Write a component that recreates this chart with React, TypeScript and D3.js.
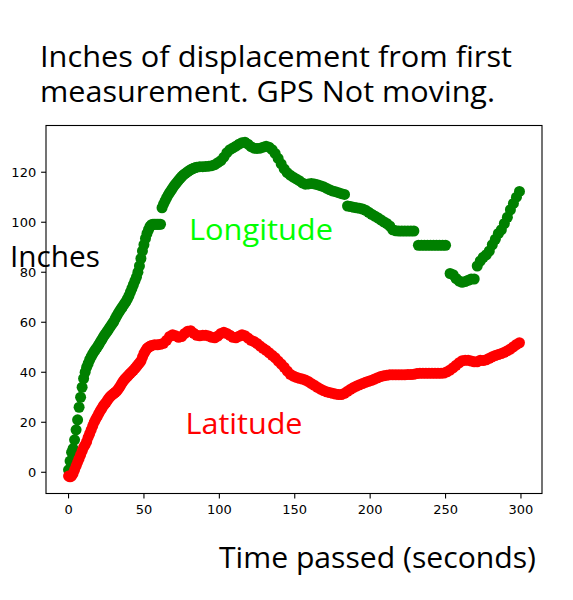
import React from 'react';
import * as d3 from 'd3';

const lonTime = [
  0, 1, 2, 3, 4, 5, 6, 7, 8, 9,
  10, 11, 12, 13, 14, 15, 16, 17, 18, 19,
  20, 21, 22, 23, 24, 25, 26, 27, 28, 29,
  30, 31, 32, 33, 34, 35, 36, 37, 38, 39,
  40, 41, 42, 43, 44, 45, 46, 47, 48, 49,
  50, 51, 52, 53, 54, 55, 56, 57, 58, 59,
  60, 61, 62, 63, 64, 65, 66, 67, 68, 69,
  70, 71, 72, 73, 74, 75, 76, 77, 78, 79,
  80, 81, 82, 83, 84, 85,
  87, 89, 91, 93, 95, 97, 99, 101, 103, 105,
  107, 109, 111, 113, 115, 117, 119, 121, 123, 125,
  127, 129, 131, 133, 135, 137, 139, 141, 143, 145,
  147, 149, 151, 153, 155, 157, 159, 161, 163, 165,
  167, 169, 171, 173, 175, 177, 179, 181, 183,
  185, 187, 189, 191, 193, 195, 197, 199, 201, 203,
  205, 207, 209, 211, 213, 215, 217, 219, 221, 223,
  225, 227, 229,
  232, 234, 236, 238, 240, 242, 244, 246, 248, 250,
  253, 255, 257, 259, 261, 263, 265, 267, 269,
  271, 273, 275, 277, 279, 281, 283, 285, 287, 289,
  291, 293, 295, 297, 299,
];

const lonInches = [
  1, 4.5, 8, 9.5, 13, 17, 21, 26, 30, 34,
  37.5, 40, 42, 43.5, 45, 46.2, 47.3, 48.3, 49.2, 50,
  51, 52, 53, 54, 55, 55.8, 56.7, 57.6, 58.5, 59.4,
  60.3, 61.5, 62.6, 63.6, 64.6, 65.5, 66.4, 67.3, 68.2, 69.3,
  70.5, 72, 73.5, 75, 76.5, 78, 80, 82.5, 85.5, 88.5,
  91, 93.5, 95.5, 97, 98.3, 99, 99.2, 99.2, 99.2, 99.2,
  99.2, 99.2, 105.8, 107.2, 108.5, 109.7, 110.8, 111.8, 112.7, 113.6,
  114.5, 115.3, 116, 116.8, 117.5, 118.2, 118.8, 119.3, 119.7, 120.2,
  120.6, 121, 121.3, 121.6, 121.8, 122,
  122.2, 122.2, 122.3, 122.4, 122.6, 123, 123.8, 124.6, 126, 127.8,
  129, 129.7, 130.4, 131.2, 131.8, 132, 131.2, 130.2, 129.6, 129.5,
  129.6, 130, 130.4, 130, 129, 127.5, 125.5, 123.3, 121.3, 119.8,
  118.8, 118, 117.3, 116.6, 115.7, 115.2, 115.3, 115.5, 115.3, 115,
  114.6, 114.2, 113.6, 113, 112.5, 112.2, 111.8, 111.4, 111.1,
  106.5, 106.3, 106, 105.8, 105.6, 105.3, 104.8, 104, 103.2, 102.5,
  101.8, 101, 100.2, 99.5, 98.5, 97, 96.6, 96.5, 96.5, 96.5,
  96.5, 96.5, 96.5,
  90.8, 90.8, 90.8, 90.8, 90.8, 90.8, 90.8, 90.8, 90.8, 90.8,
  79.5, 79, 77.5, 76.5, 76, 76.3, 76.8, 77.3, 77.3,
  82.5, 84.5, 86, 87, 88.5, 91, 93.2, 95.5, 97, 99.5,
  102, 105, 107.5, 110, 112.3,
];

const latTime = [
  0, 1, 2, 3, 4, 5, 6, 7, 8, 9,
  10, 11, 12, 13, 14, 15, 16, 17, 18, 19,
  20, 21, 22, 23, 24, 25, 26, 27, 28, 29,
  30, 31, 32, 33, 34, 35, 36, 37, 38, 39,
  40, 41, 42, 43, 44, 45, 46, 47, 48, 49,
  50, 51, 52, 53, 54, 55,
  57, 59, 61, 63, 65, 67, 69, 71, 73, 75,
  77, 79, 81, 83, 85, 87, 89, 91, 93, 95,
  97, 99, 101, 103, 105, 107, 109, 111, 113, 115,
  117, 119, 121, 123, 125, 127, 129, 131, 133, 135,
  137, 139, 141, 143, 145, 147, 149, 151, 153, 155,
  157, 159, 161, 163, 165, 167, 169, 171, 173, 175,
  177, 179, 181, 183, 185, 187, 189, 191, 193, 195,
  197, 199, 201, 203, 205, 207, 209, 211, 213, 215,
  217, 219, 221, 223, 225, 227, 229, 231, 233, 235,
  237, 239, 241, 243, 245, 247, 249, 251, 253, 255,
  257, 259, 261, 263, 265, 267, 269, 271, 273, 275,
  277, 279, 281, 283, 285, 287, 289, 291, 293, 295,
  297, 299,
];

const latInches = [
  -1.5, -1.8, -1.5, -0.5, 1, 2.5, 4, 5.5, 7, 8.5,
  10, 11, 12.3, 14, 15.5, 17, 18.5, 20, 21.2, 22.3,
  23.5, 24.5, 25.5, 26.5, 27.3, 28, 29, 29.8, 30.5, 31,
  31.5, 32, 32.5, 33.3, 34.2, 35.2, 36.2, 37, 37.7, 38.3,
  39, 39.6, 40.2, 40.8, 41.5, 42.2, 43, 43.7, 44.5, 46,
  47.5, 48.5, 49.5, 50, 50.4, 50.7,
  51, 51, 51.2, 51.6, 52.8, 54.3, 55, 54.6, 54, 54.3,
  55.5, 56.4, 56.6, 55.6, 54.8, 54.6, 54.8, 54.8, 54.5, 54,
  53.8, 54.5, 55.5, 56, 55.5, 54.8, 54, 53.8, 54.4, 55,
  54.6, 53.7, 52.8, 52.3, 51.5, 50.5, 49.6, 48.8, 47.8, 46.8,
  45.8, 44.5, 43.3, 42, 40.5, 39.2, 38.5, 38, 37.6, 37.3,
  36.9, 36.3, 35.5, 34.8, 34, 33.3, 32.7, 32.2, 31.9, 31.6,
  31.3, 31.1, 31.1, 31.6, 32.4, 33.2, 33.9, 34.5, 35, 35.5,
  36, 36.4, 36.8, 37.3, 37.8, 38.3, 38.6, 38.8, 39, 39,
  39, 39, 39, 39, 39.1, 39.1, 39.2, 39.5, 39.6, 39.6,
  39.6, 39.6, 39.6, 39.6, 39.6, 39.6, 39.7, 40.2, 40.9, 41.8,
  42.8, 43.8, 44.6, 44.8, 44.8, 44.5, 44.2, 44.2, 44.8, 44.7,
  45, 45.6, 46.2, 46.7, 47.1, 47.5, 48, 48.6, 49.3, 50.2,
  51.1, 51.8,
];

const xTicks = [0, 50, 100, 150, 200, 250, 300];
const yTicks = [0, 20, 40, 60, 80, 100, 120];
const titleLines = ['Inches of displacement from first', 'measurement. GPS Not moving.'];
const yLabel = 'Inches';
const xLabel = 'Time passed (seconds)';
const lonLabel = 'Longitude';
const latLabel = 'Latitude';

const W = 573;
const H = 600;
const LEFT = 46;
const RIGHT = 542;
const TOP = 125.5;
const BOTTOM = 493.5;
const R = 5.5;
const BIG_FONT = "'Open Sans', 'Noto Sans', sans-serif";
const TICK_FONT = "'DejaVu Sans', sans-serif";

function padded(values: number[]): [number, number] {
  const [lo, hi] = d3.extent(values) as [number, number];
  const m = (hi - lo) * 0.05;
  return [lo - m, hi + m];
}

export default function App() {
  const x = d3.scaleLinear().domain(padded([...lonTime, ...latTime])).range([LEFT, RIGHT]);
  const y = d3.scaleLinear().domain(padded([...lonInches, ...latInches])).range([BOTTOM, TOP]);

  const lon = lonTime.map((t, i) => [t, lonInches[i]] as [number, number]);
  const lat = latTime.map((t, i) => [t, latInches[i]] as [number, number]);

  return (
    <svg width={W} height={H} style={{ position: 'absolute', left: 0, top: 0, background: '#fff' }}>
      <rect x={0} y={0} width={W} height={H} fill="#fff" />
      <g>
        {lon.map(([t, v], i) => (
          <circle key={'g' + i} cx={x(t)} cy={y(v)} r={R} fill="#008000" />
        ))}
        {lat.map(([t, v], i) => (
          <circle key={'r' + i} cx={x(t)} cy={y(v)} r={R} fill="#ff0000" />
        ))}
      </g>
      <rect x={LEFT} y={TOP} width={RIGHT - LEFT} height={BOTTOM - TOP} fill="none" stroke="#000" strokeWidth={1.1} />
      <g fontFamily={TICK_FONT} fontSize={13} fill="#000">
        {xTicks.map((t) => (
          <g key={'xt' + t}>
            <line x1={x(t)} x2={x(t)} y1={BOTTOM} y2={BOTTOM + 4.9} stroke="#000" strokeWidth={1.1} />
            <text x={x(t)} y={BOTTOM + 20.5} textAnchor="middle">{t}</text>
          </g>
        ))}
        {yTicks.map((v) => (
          <g key={'yt' + v}>
            <line x1={LEFT - 4.9} x2={LEFT} y1={y(v)} y2={y(v)} stroke="#000" strokeWidth={1.1} />
            <text x={LEFT - 9.8} y={y(v)} dy="0.36em" textAnchor="end">{v}</text>
          </g>
        ))}
      </g>
      <g fontFamily={BIG_FONT} fontSize={30}>
        <text x={40} y={67} textLength={472} lengthAdjust="spacingAndGlyphs" fill="#000">{titleLines[0]}</text>
        <text x={40} y={102} textLength={455} lengthAdjust="spacingAndGlyphs" fill="#000">{titleLines[1]}</text>
        <text x={10} y={267} textLength={90} lengthAdjust="spacingAndGlyphs" fill="#000">{yLabel}</text>
        <text x={219} y={567.5} textLength={317} lengthAdjust="spacingAndGlyphs" fill="#000">{xLabel}</text>
        <text x={189} y={239.5} textLength={144} lengthAdjust="spacingAndGlyphs" fill="#00ff00">{lonLabel}</text>
        <text x={185.5} y={433.5} textLength={117} lengthAdjust="spacingAndGlyphs" fill="#ff0000">{latLabel}</text>
      </g>
    </svg>
  );
}
